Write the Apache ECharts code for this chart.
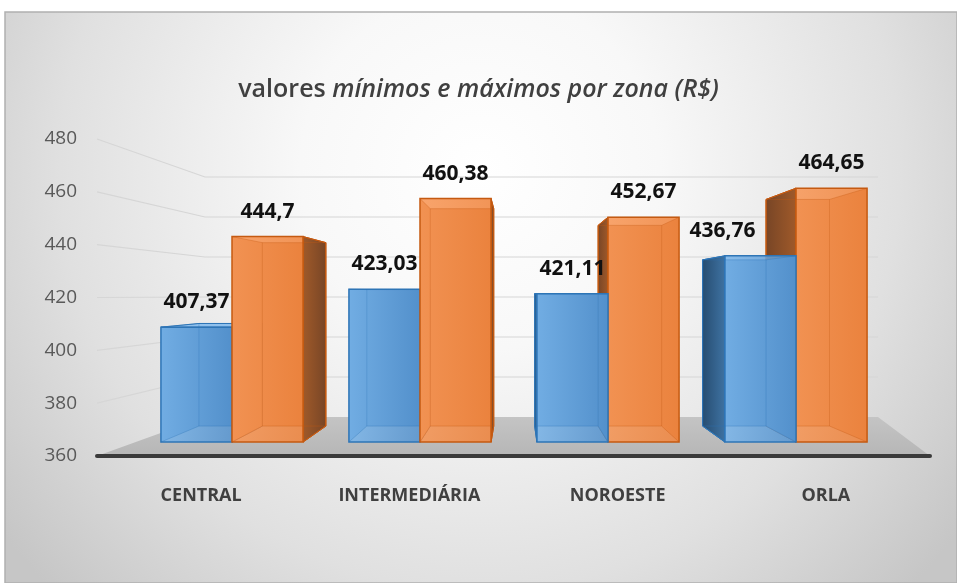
<!DOCTYPE html>
<html>
<head>
<meta charset="utf-8">
<script src="https://cdn.jsdelivr.net/npm/echarts@6/dist/echarts.min.js"></script>
<style>
  html, body { margin: 0; padding: 0; background: #fff; }
  #main { width: 957px; height: 583px; }
</style>
</head>
<body>
<div id="main"></div>
<script>
const categories = ['CENTRAL', 'INTERMEDIÁRIA', 'NOROESTE', 'ORLA'];
const minValues = [407.37, 423.03, 421.11, 436.76];
const maxValues = [444.7, 460.38, 452.67, 464.65];
const yTicks = [360, 380, 400, 420, 440, 460, 480];

const FONT = '"Open Sans", "Liberation Sans", sans-serif';
const VP = [516, 293];      // vanishing point of the fake 3d
const DEPTH = 0.893;        // scale of the back face towards VP

const palette = {
  min: {
    front: ['rgba(122,182,236,0.86)', 'rgba(86,148,208,0.86)'],
    hidden: '#3c76ad',
    side: ['#264c70', '#3f73a3'],
    top: '#8fc0ec',
    border: '#2e75b6'
  },
  max: {
    front: ['rgba(248,152,88,0.88)', 'rgba(240,134,64,0.88)'],
    hidden: '#c2662a',
    side: ['#774526', '#a05a2a'],
    top: '#f8ab74',
    border: '#c55a11'
  }
};

function toBack(p) {
  return [VP[0] + DEPTH * (p[0] - VP[0]), VP[1] + DEPTH * (p[1] - VP[1])];
}

function poly(points, style) {
  return { type: 'polygon', shape: { points: points }, style: style };
}

function box(x0, x1, yTop, yBot, pal) {
  const fTL = [x0, yTop], fTR = [x1, yTop], fBR = [x1, yBot], fBL = [x0, yBot];
  const bTL = toBack(fTL), bTR = toBack(fTR), bBR = toBack(fBR), bBL = toBack(fBL);
  const sideFill = (a, b) => new echarts.graphic.LinearGradient(0, 0, 1, 0, [
    { offset: 0, color: a }, { offset: 1, color: b }
  ]);
  const els = [];
  // faces behind the front, seen through it
  els.push(poly([bTL, bTR, bBR, bBL], { fill: pal.hidden }));
  if (x0 <= VP[0]) els.push(poly([fTL, bTL, bBL, fBL], { fill: pal.hidden }));
  if (x1 >= VP[0]) els.push(poly([fTR, bTR, bBR, fBR], { fill: pal.hidden }));
  // visible side / top faces
  if (x0 > VP[0]) {
    els.push(poly([fTL, bTL, bBL, fBL], {
      fill: sideFill(pal.side[0], pal.side[1]), stroke: pal.border, lineWidth: 1
    }));
  }
  if (x1 < VP[0]) {
    els.push(poly([fTR, bTR, bBR, fBR], {
      fill: sideFill(pal.side[1], pal.side[0]), stroke: pal.border, lineWidth: 1
    }));
  }
  if (yTop > VP[1]) {
    els.push(poly([fTL, fTR, bTR, bTL], { fill: pal.top, stroke: pal.border, lineWidth: 1 }));
  }
  // front face
  els.push({
    type: 'rect',
    shape: { x: x0, y: yTop, width: x1 - x0, height: yBot - yTop },
    style: {
      fill: new echarts.graphic.LinearGradient(0, 0, 1, 0, [
        { offset: 0, color: pal.front[0] }, { offset: 1, color: pal.front[1] }
      ]),
      stroke: pal.border, lineWidth: 1.5
    }
  });
  // hidden edges
  const edge = { stroke: pal.border, lineWidth: 1, opacity: 0.35, fill: null };
  els.push({ type: 'polygon', shape: { points: [bTL, bTR, bBR, bBL] }, style: edge });
  [[fTL, bTL], [fTR, bTR], [fBR, bBR], [fBL, bBL]].forEach(function (s) {
    els.push({ type: 'line', shape: { x1: s[0][0], y1: s[0][1], x2: s[1][0], y2: s[1][1] }, style: edge });
  });
  return els;
}

function renderItem(params, api) {
  const idx = api.value(0);
  const band = api.size([1, 0])[0];
  const barW = band * 0.378;
  const cx = api.coord([idx, 360])[0];
  const yBot = api.coord([idx, 360])[1];
  const yMin = api.coord([idx, api.value(1)])[1];
  const yMax = api.coord([idx, api.value(2)])[1];

  const minBox = box(cx - barW, cx, yMin, yBot, palette.min);
  const maxBox = box(cx, cx + barW, yMax, yBot, palette.max);
  // draw the nearer box last
  const children = cx > VP[0] ? maxBox.concat(minBox) : minBox.concat(maxBox);

  // label of the short bar moves left when the tall bar's side face is wide
  const sideW = cx - toBack([cx, 0])[0];
  const minShift = sideW > 20 ? -(sideW + 8) : 0;
  const label = (text, x, y) => ({
    type: 'text',
    style: {
      text: text, x: x, y: y, fill: '#111',
      font: 'bold 21px ' + FONT, align: 'center', verticalAlign: 'middle'
    }
  });
  children.push(label(String(api.value(1)).replace('.', ','), cx - barW / 2 + minShift, yMin - 25));
  children.push(label(String(api.value(2)).replace('.', ','), cx + barW / 2, yMax - 25));

  return { type: 'group', children: children };
}

const baseGraphic = [
  {
    type: 'rect', z: -10,
    shape: { x: 5, y: 12, width: 952, height: 571 },
    style: {
      fill: new echarts.graphic.RadialGradient(480, 170, 600, [
        { offset: 0, color: '#ffffff' },
        { offset: 0.3, color: '#f8f8f8' },
        { offset: 0.7, color: '#e0e0e0' },
        { offset: 1, color: '#c6c6c6' }
      ], true),
      stroke: '#b0b0b0', lineWidth: 1.5
    }
  },
  {
    type: 'polygon', z: 1,
    shape: { points: [[97, 456], [205, 417], [878, 417], [930, 456]] },
    style: {
      fill: new echarts.graphic.LinearGradient(0, 0, 0, 1, [
        { offset: 0, color: '#c4c4c4' }, { offset: 1, color: '#b6b6b6' }
      ])
    }
  }
];

const option = {
  animation: false,
  title: {
    text: '{a|valores }{b|mínimos e máximos por zona (R$)}',
    left: 'center',
    top: 72,
    textStyle: {
      rich: {
        a: { fontFamily: FONT, fontSize: 25, fontWeight: 600, color: '#404040' },
        b: { fontFamily: FONT, fontSize: 25, fontWeight: 600, color: '#404040', fontStyle: 'italic' }
      }
    }
  },
  grid: [
    { left: 97, right: 27, top: 139, bottom: 127 },
    { left: 138, right: 67, top: 151, bottom: 141 },
    { left: 205, right: 79, top: 177, bottom: 166 }
  ],
  xAxis: [
    {
      type: 'category', gridIndex: 0, data: categories, z: 3,
      axisLine: { lineStyle: { color: '#3a3a3a', width: 4 } },
      axisTick: { show: false },
      axisLabel: { margin: 31, fontFamily: FONT, fontSize: 18, fontWeight: 'bold', color: '#404040' }
    },
    { type: 'category', gridIndex: 1, data: categories, show: false },
    { type: 'category', gridIndex: 2, data: categories, show: false }
  ],
  yAxis: [
    {
      type: 'value', gridIndex: 0, min: 360, max: 480, interval: 20,
      axisLine: { show: false }, axisTick: { show: false }, splitLine: { show: false },
      axisLabel: { margin: 20, fontFamily: FONT, fontSize: 19, color: '#595959' }
    },
    { type: 'value', gridIndex: 1, min: 360, max: 480, interval: 20, show: false, splitLine: { show: false } },
    { type: 'value', gridIndex: 2, min: 360, max: 480, interval: 20, show: false, splitLine: { show: false } }
  ],
  graphic: baseGraphic,
  series: [
    {
      type: 'custom',
      name: 'min/max',
      xAxisIndex: 1,
      yAxisIndex: 1,
      z: 2,
      clip: false,
      renderItem: renderItem,
      encode: { x: 0, y: [1, 2] },
      data: categories.map((c, i) => [i, minValues[i], maxValues[i]])
    }
  ]
};

const myChart = echarts.init(document.getElementById('main'));
myChart.setOption(option);

// back-wall gridlines: left-wall slant from the value axis to the back wall, then along it
const wallLines = yTicks.filter(v => v > 360).map(function (v) {
  const yFront = myChart.convertToPixel({ yAxisIndex: 0 }, v);
  const yBack = myChart.convertToPixel({ yAxisIndex: 2 }, v);
  return {
    type: 'polyline', z: 0,
    shape: { points: [[97, yFront], [205, yBack], [878, yBack]] },
    style: { stroke: '#d6d6d6', lineWidth: 1.2, fill: null }
  };
});
myChart.setOption({ graphic: baseGraphic.concat(wallLines) });
</script>
</body>
</html>
